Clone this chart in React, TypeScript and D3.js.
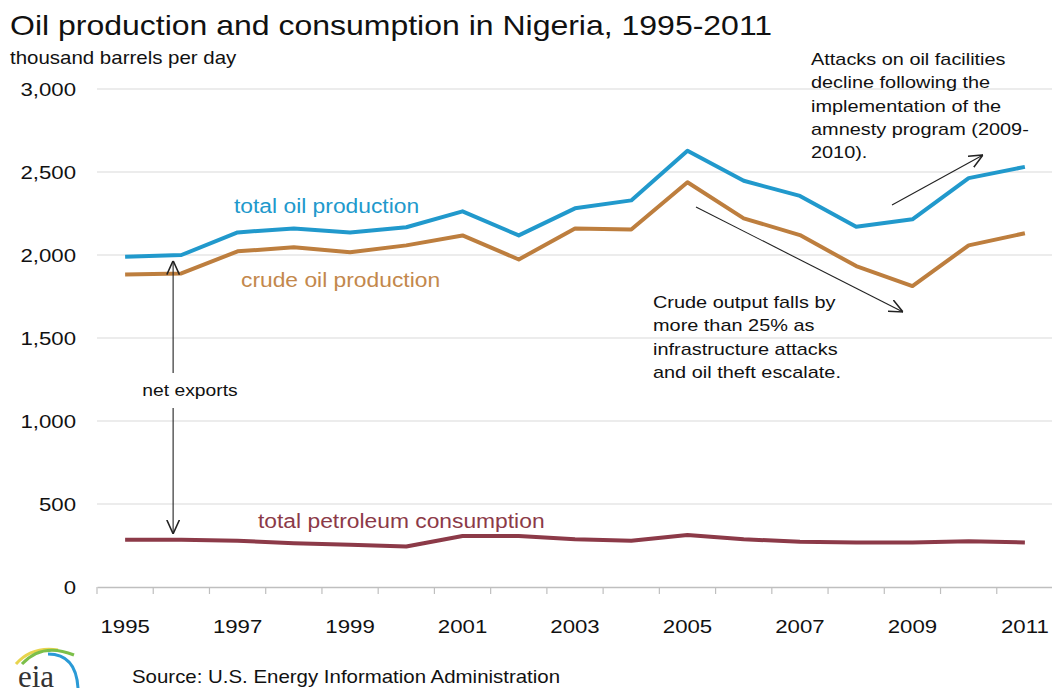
import React, { useEffect, useRef } from 'react';
import * as d3 from 'd3';

const years = ['1995', '1996', '1997', '1998', '1999', '2000', '2001', '2002', '2003', '2004', '2005', '2006', '2007', '2008', '2009', '2010', '2011'];
const totalProduction = [1990, 2000, 2136, 2160, 2136, 2167, 2263, 2118, 2281, 2329, 2628, 2447, 2356, 2170, 2215, 2463, 2531];
const crudeProduction = [1883, 1889, 2022, 2046, 2016, 2058, 2118, 1973, 2160, 2154, 2438, 2221, 2120, 1933, 1813, 2058, 2131];
const consumption = [284, 284, 278, 264, 254, 244, 307, 307, 288, 278, 313, 288, 272, 268, 268, 276, 268];
const yTicks = [0, 500, 1000, 1500, 2000, 2500, 3000];
const xLabels = ['1995', '1997', '1999', '2001', '2003', '2005', '2007', '2009', '2011'];

const amnestyNote = ['Attacks on oil facilities', 'decline following the', 'implementation of the', 'amnesty program (2009-', '2010).'];
const crudeNote = ['Crude output falls by', 'more than 25% as', 'infrastructure attacks', 'and oil theft escalate.'];

const BLUE = '#2199cc';
const ORANGE = '#bd7e3e';
const RED = '#8c3a48';
const FONT = '"Liberation Sans", Arial, sans-serif';
// the reference type is a little wider than Arial, stretch it sideways
const SX = 1.17;

const App: React.FC = () => {
  const svgRef = useRef<SVGSVGElement>(null);
  const width = 1052;
  const height = 694;

  useEffect(() => {
    if (!svgRef.current) return;
    const svg = d3.select(svgRef.current);
    svg.selectAll('*').remove();

    const left = 97;
    const right = 1053;
    const top = 89;
    const bottom = 587;

    const x = d3.scaleBand().domain(years).range([left, right]).padding(0);
    const cx = (yr: string) => (x(yr) || 0) + x.bandwidth() / 2;
    const y = d3.scaleLinear().domain([0, 3000]).range([bottom, top]);

    const put = (tx: number, ty: number, sx = SX) => `translate(${tx},${ty}) scale(${sx},1)`;

    svg.append('defs').append('marker')
      .attr('id', 'arrow')
      .attr('viewBox', '0 0 10 10')
      .attr('refX', 10)
      .attr('refY', 5)
      .attr('markerWidth', 14)
      .attr('markerHeight', 14)
      .attr('markerUnits', 'userSpaceOnUse')
      .attr('orient', 'auto')
      .append('path')
      .attr('d', 'M0,0.5 L10,5 L0,9.5')
      .attr('fill', 'none')
      .attr('stroke', '#222')
      .attr('stroke-width', 1.1);

    // gridlines
    svg.append('g')
      .selectAll('line')
      .data(yTicks.filter(d => d > 0))
      .enter().append('line')
      .attr('x1', left)
      .attr('x2', width)
      .attr('y1', d => y(d))
      .attr('y2', d => y(d))
      .attr('stroke', '#d9d9d9')
      .attr('stroke-width', 1.2);

    // y labels
    svg.append('g')
      .selectAll('text')
      .data(yTicks)
      .enter().append('text')
      .attr('transform', d => put(76, y(d)))
      .attr('dy', '0.36em')
      .attr('text-anchor', 'end')
      .style('font-family', FONT)
      .style('font-size', '19px')
      .style('fill', '#111')
      .text(d => d3.format(',')(d));

    // x axis
    const xAxis = svg.append('g')
      .attr('transform', `translate(0,${bottom})`)
      .call(d3.axisBottom(x).tickSize(0).tickFormat(() => ''));
    xAxis.select('.domain').attr('stroke', '#bfbfbf').attr('stroke-width', 1.5);
    xAxis.selectAll('.tick').remove();

    svg.append('g')
      .selectAll('line')
      .data(years)
      .enter().append('line')
      .attr('x1', d => x(d) || 0)
      .attr('x2', d => x(d) || 0)
      .attr('y1', bottom)
      .attr('y2', bottom + 7)
      .attr('stroke', '#bfbfbf')
      .attr('stroke-width', 1.2);

    svg.append('g')
      .selectAll('text')
      .data(xLabels)
      .enter().append('text')
      .attr('transform', d => put(cx(d), 633))
      .attr('text-anchor', 'middle')
      .style('font-family', FONT)
      .style('font-size', '19px')
      .style('fill', '#111')
      .text(d => d);

    // lines
    const series = [
      { values: consumption, color: RED },
      { values: crudeProduction, color: ORANGE },
      { values: totalProduction, color: BLUE },
    ];
    series.forEach(s => {
      const line = d3.line<number>()
        .x((_, i) => cx(years[i]))
        .y(d => y(d));
      svg.append('path')
        .datum(s.values)
        .attr('d', line)
        .attr('fill', 'none')
        .attr('stroke', s.color)
        .attr('stroke-width', 4)
        .attr('stroke-linejoin', 'round');
    });

    // series labels
    const label = (txt: string, lx: number, ly: number, color: string) =>
      svg.append('text')
        .attr('transform', put(lx, ly))
        .style('font-family', FONT)
        .style('font-size', '19.5px')
        .style('fill', color)
        .text(txt);
    label('total oil production', 234, 213, BLUE);
    label('crude oil production', 241, 287, '#c3884c');
    label('total petroleum consumption', 258, 528, RED);

    // net exports arrows
    const ax = cx('1995') + 48;
    svg.append('line')
      .attr('x1', ax).attr('x2', ax)
      .attr('y1', 373).attr('y2', y(totalProduction[0]) + 4)
      .attr('stroke', '#222').attr('stroke-width', 1.1)
      .attr('marker-end', 'url(#arrow)');
    svg.append('line')
      .attr('x1', ax).attr('x2', ax)
      .attr('y1', 408).attr('y2', y(consumption[0]) - 6)
      .attr('stroke', '#222').attr('stroke-width', 1.1)
      .attr('marker-end', 'url(#arrow)');
    svg.append('text')
      .attr('transform', put(190, 396))
      .attr('text-anchor', 'middle')
      .style('font-family', FONT)
      .style('font-size', '16.5px')
      .style('fill', '#111')
      .text('net exports');

    // annotation arrows
    svg.append('line')
      .attr('x1', 892).attr('y1', 205).attr('x2', 983).attr('y2', 155)
      .attr('stroke', '#222').attr('stroke-width', 1.1)
      .attr('marker-end', 'url(#arrow)');
    svg.append('line')
      .attr('x1', 696).attr('y1', 207).attr('x2', 903).attr('y2', 312)
      .attr('stroke', '#222').attr('stroke-width', 1.1)
      .attr('marker-end', 'url(#arrow)');

    const note = (lines: string[], nx: number, ny: number) => {
      const t = svg.append('text')
        .attr('transform', put(nx, ny))
        .style('font-family', FONT)
        .style('font-size', '17px')
        .style('fill', '#111');
      lines.forEach((ln, i) => {
        t.append('tspan').attr('x', 0).attr('y', i * 23.3).text(ln);
      });
    };
    note(amnestyNote, 811, 65);
    note(crudeNote, 653, 308);

    // title and unit
    svg.append('text')
      .attr('transform', put(10, 35, 1.143))
      .style('font-family', FONT)
      .style('font-size', '28px')
      .style('fill', '#111')
      .text('Oil production and consumption in Nigeria, 1995-2011');
    svg.append('text')
      .attr('transform', put(10, 64))
      .style('font-family', FONT)
      .style('font-size', '17.5px')
      .style('fill', '#111')
      .text('thousand barrels per day');

    // source
    svg.append('text')
      .attr('transform', put(132, 683, 1.135))
      .style('font-family', FONT)
      .style('font-size', '18px')
      .style('fill', '#111')
      .text('Source: U.S. Energy Information Administration');

    // eia logo
    const logo = svg.append('g');
    logo.append('path')
      .attr('d', 'M16,664 Q32,646 58,650')
      .attr('fill', 'none').attr('stroke', '#e8d44d').attr('stroke-width', 3);
    logo.append('path')
      .attr('d', 'M22,664 Q42,642 74,655')
      .attr('fill', 'none').attr('stroke', '#7cbf4a').attr('stroke-width', 3);
    logo.append('path')
      .attr('d', 'M48,654 Q76,654 78,688')
      .attr('fill', 'none').attr('stroke', '#2a9ad6').attr('stroke-width', 3);
    logo.append('text')
      .attr('x', 36)
      .attr('y', 687)
      .attr('text-anchor', 'middle')
      .style('font-family', '"Liberation Serif", "DejaVu Serif", serif')
      .style('font-size', '31px')
      .style('fill', '#333')
      .text('eia');
  }, []);

  return (
    <svg
      ref={svgRef}
      width={width}
      height={height}
      style={{ position: 'absolute', left: 0, top: 0, background: '#fff' }}
    />
  );
};

export default App;
